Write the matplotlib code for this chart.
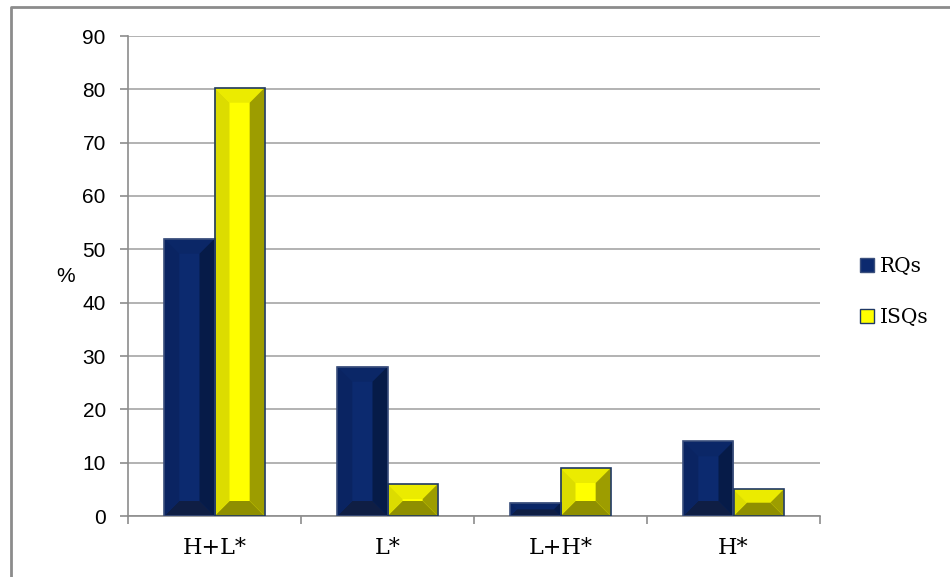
import numpy as np
import matplotlib
matplotlib.use("Agg")
import matplotlib.pyplot as plt
from matplotlib.patches import Polygon, Patch
from matplotlib.lines import Line2D

categories = ["H+L*", "L*", "L+H*", "H*"]
rqs = [52, 28, 2.5, 14]
isqs = [80.3, 6, 9, 5]
series = ["RQs", "ISQs"]
y_ticks = [0, 10, 20, 30, 40, 50, 60, 70, 80, 90]

# face colours for the bevelled bars: center, left, right, top, bottom
navy = dict(center="#0c2a6f", left="#0a2462", right="#061b48", top="#0b2767",
            bottom="#0f1e44", edge="#3b4f7c")
yellow = dict(center="#ffff00", left="#dcdc00", right="#9d9d00", top="#ebeb00",
              bottom="#8f8f00", edge="#1f3864")

fig = plt.figure(figsize=(9.5, 5.77), dpi=100)
ax = fig.add_axes([128 / 950, 1 - 516 / 577, 692 / 950, 480 / 577])

x = np.arange(len(categories))
width = 0.29
ax.set_xlim(-0.5, len(categories) - 0.5)
ax.set_ylim(0, 90)


def bevel_bars(xs, heights, colors):
    # pixels per data unit, so the bevel keeps 45 degree corners
    px_x = ax.bbox.width / (ax.get_xlim()[1] - ax.get_xlim()[0])
    px_y = ax.bbox.height / (ax.get_ylim()[1] - ax.get_ylim()[0])
    ax.bar(xs, heights, width, align="edge", color=colors["center"],
           linewidth=0, zorder=3)
    for x0, h in zip(xs, heights):
        x1 = x0 + width
        b = min(15, width * px_x / 2, h * px_y / 2)
        bx, by = b / px_x, b / px_y
        faces = {
            "top": [(x0, h), (x1, h), (x1 - bx, h - by), (x0 + bx, h - by)],
            "bottom": [(x0, 0), (x1, 0), (x1 - bx, by), (x0 + bx, by)],
            "left": [(x0, 0), (x0, h), (x0 + bx, h - by), (x0 + bx, by)],
            "right": [(x1, 0), (x1, h), (x1 - bx, h - by), (x1 - bx, by)],
        }
        for name, pts in faces.items():
            ax.add_patch(Polygon(pts, closed=True, facecolor=colors[name],
                                 edgecolor="none", zorder=4))
    ax.bar(xs, heights, width, align="edge", fill=False,
           edgecolor=colors["edge"], linewidth=1.2, zorder=5)


bevel_bars(x - width, rqs, navy)
bevel_bars(x, isqs, yellow)

# axes styling
ax.set_yticks(y_ticks)
ax.set_yticklabels([str(v) for v in y_ticks], family="Liberation Sans", fontsize=15)
ax.yaxis.grid(True, color="#a6a6a6", linewidth=1.2, zorder=0)
ax.set_axisbelow(True)
ax.tick_params(axis="y", length=6, color="#8c8c8c", width=1.2, pad=10)

ax.set_xticks(x)
ax.set_xticklabels(categories, family="DejaVu Serif", fontsize=16)
ax.set_xticks(np.arange(len(categories) + 1) - 0.5, minor=True)
ax.tick_params(axis="x", which="major", length=0, pad=15)
ax.tick_params(axis="x", which="minor", length=6, color="#8c8c8c", width=1.2)

for side in ["top", "right"]:
    ax.spines[side].set_visible(False)
for side in ["left", "bottom"]:
    ax.spines[side].set_color("#8c8c8c")
    ax.spines[side].set_linewidth(1.2)

ax.set_ylabel("%", family="Liberation Sans", fontsize=15, rotation=0,
              labelpad=12, va="center")

handles = [Patch(facecolor=navy["center"], edgecolor=navy["edge"]),
           Patch(facecolor=yellow["center"], edgecolor=yellow["edge"])]
fig.legend(handles, series, loc="center left",
           bbox_to_anchor=(842 / 950, 1 - 292 / 577), frameon=False,
           prop={"family": "DejaVu Serif", "size": 14.5},
           handlelength=0.7, handleheight=0.7, handletextpad=0.3,
           labelspacing=1.6)

# outer chart border (open to the right and bottom)
fig.add_artist(Line2D([11 / 950, 11 / 950, 1.0], [0.0, 1 - 7 / 577, 1 - 7 / 577],
                      transform=fig.transFigure, color="#8c8c8c", linewidth=2))

fig.savefig("out.png", dpi=100)
